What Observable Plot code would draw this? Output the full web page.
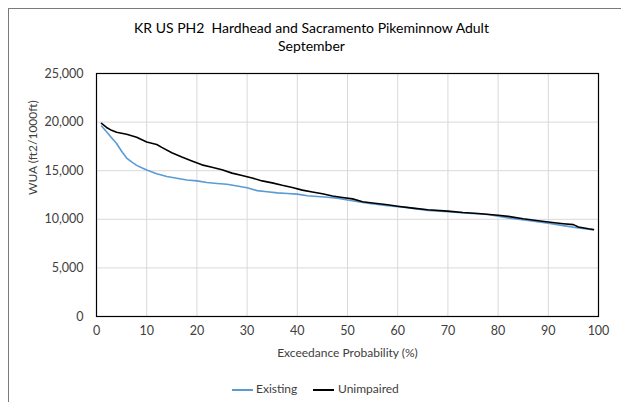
<!DOCTYPE html>
<html>
<head>
<meta charset="utf-8">
<script src="https://cdn.jsdelivr.net/npm/d3@7"></script>
<script src="https://cdn.jsdelivr.net/npm/@observablehq/plot@0.6"></script>
<style>
  html, body { margin: 0; padding: 0; background: #fff; }
  #wrap { position: relative; width: 621px; height: 402px; overflow: hidden; font-family: Lato, "Open Sans", sans-serif; }
  #box { position: absolute; left: 8px; top: 8px; width: 700px; height: 500px; border-left: 1.5px solid #7a7a7a; border-top: 1.5px solid #7a7a7a; }
  #title { position: absolute; left: 0; width: 623px; top: 19px; text-align: center; font-size: 14px; line-height: 18px; color: #000; }
  #chart { position: absolute; left: 0; top: 0; }
  #legend { position: absolute; top: 381px; left: 0; width: 621px; font-size: 12px; color: #404040; }
  .sw { position: absolute; top: 8px; width: 21px; height: 0; }
  .lt { position: absolute; top: 0; }
</style>
</head>
<body>
<div id="wrap">
  <div id="box"></div>
  <div id="chart"></div>
  <div id="title">KR US PH2&nbsp; Hardhead and Sacramento Pikeminnow Adult<br>September</div>
  <div id="legend"></div>
</div>
<script>
const existingX = [1,2,3,4,5,6,7,8,9,10,12,14,16,18,20,22,24,26,28,30,32,34,36,38,40,42,44,46,48,50,54,58,62,66,70,74,78,82,86,90,93,96,98,99];
const existingY = [19600,19000,18400,17800,17000,16300,15900,15550,15300,15070,14680,14400,14220,14050,13950,13780,13680,13600,13420,13250,12950,12830,12720,12650,12590,12420,12350,12270,12180,11980,11650,11400,11200,10920,10780,10620,10500,10150,9880,9600,9350,9100,8980,8900];
const unimpairedX = [1,2,3,4,6,8,10,12,13,15,17,19,21,23,25,27,29,31,33,35,37,39,41,43,45,47,49,51,53,55,58,60,63,66,70,73,76,80,82,85,88,90,93,95,96,98,99];
const unimpairedY = [19870,19450,19150,18950,18750,18450,17950,17700,17400,16850,16400,16000,15600,15350,15100,14750,14500,14250,13950,13750,13500,13280,13000,12800,12620,12400,12250,12100,11800,11680,11500,11350,11150,10980,10840,10700,10600,10420,10300,10050,9850,9730,9550,9450,9200,9020,8950];
const seriesNames = ["Existing", "Unimpaired"];
const seriesColors = ["#5b9bd5", "#000000"];
const xTicks = [0,10,20,30,40,50,60,70,80,90,100];
const yTicks = [0,5000,10000,15000,20000,25000];

const data = [
  ...existingX.map((x, i) => ({x, y: existingY[i], s: seriesNames[0]})),
  ...unimpairedX.map((x, i) => ({x, y: unimpairedY[i], s: seriesNames[1]}))
];

const plot = Plot.plot({
  width: 621,
  height: 402,
  marginLeft: 96,
  marginRight: 23,
  marginTop: 73,
  marginBottom: 86,
  style: { fontFamily: "Lato, 'Open Sans', sans-serif", fontSize: "12px", color: "#595959", background: "transparent" },
  x: { domain: [0, 100], ticks: xTicks, tickSize: 0, tickPadding: 10, label: null },
  y: { domain: [0, 25000], ticks: yTicks, tickSize: 0, tickPadding: 13, tickFormat: d3.format(","), label: null },
  color: { domain: seriesNames, range: seriesColors },
  marks: [
    Plot.gridX(xTicks, { stroke: "#d9d9d9", strokeOpacity: 1, strokeWidth: 1 }),
    Plot.gridY(yTicks, { stroke: "#d9d9d9", strokeOpacity: 1, strokeWidth: 1 }),
    Plot.axisX(xTicks, { tickSize: 0, tickPadding: 10, fill: "#404040", fontSize: 12.5, label: null }),
    Plot.axisY(yTicks, { tickSize: 0, tickPadding: 13, fill: "#404040", fontSize: 12.5, tickFormat: d3.format(","), label: null }),
    Plot.line(data, { x: "x", y: "y", z: "s", stroke: "s", strokeWidth: 1.6 }),
    Plot.frame({ stroke: "#000", strokeWidth: 1.2 }),
    Plot.text(["Exceedance Probability (%)"], { frameAnchor: "bottom", dy: 40, text: d => d, fontSize: 12, fill: "#404040" }),
    Plot.text(["WUA (ft2/1000ft)"], { frameAnchor: "left", dx: -63, rotate: -90, text: d => d, fontSize: 12, fill: "#404040" })
  ]
});
document.getElementById("chart").appendChild(plot);

const legend = document.getElementById("legend");
const items = [
  { name: seriesNames[0], color: seriesColors[0], lineLeft: 232, textLeft: 256 },
  { name: seriesNames[1], color: seriesColors[1], lineLeft: 313, textLeft: 338 }
];
for (const it of items) {
  const sw = document.createElement("div");
  sw.className = "sw";
  sw.style.left = it.lineLeft + "px";
  sw.style.borderTop = "2px solid " + it.color;
  legend.appendChild(sw);
  const t = document.createElement("div");
  t.className = "lt";
  t.style.left = it.textLeft + "px";
  t.textContent = it.name;
  legend.appendChild(t);
}
</script>
</body>
</html>
